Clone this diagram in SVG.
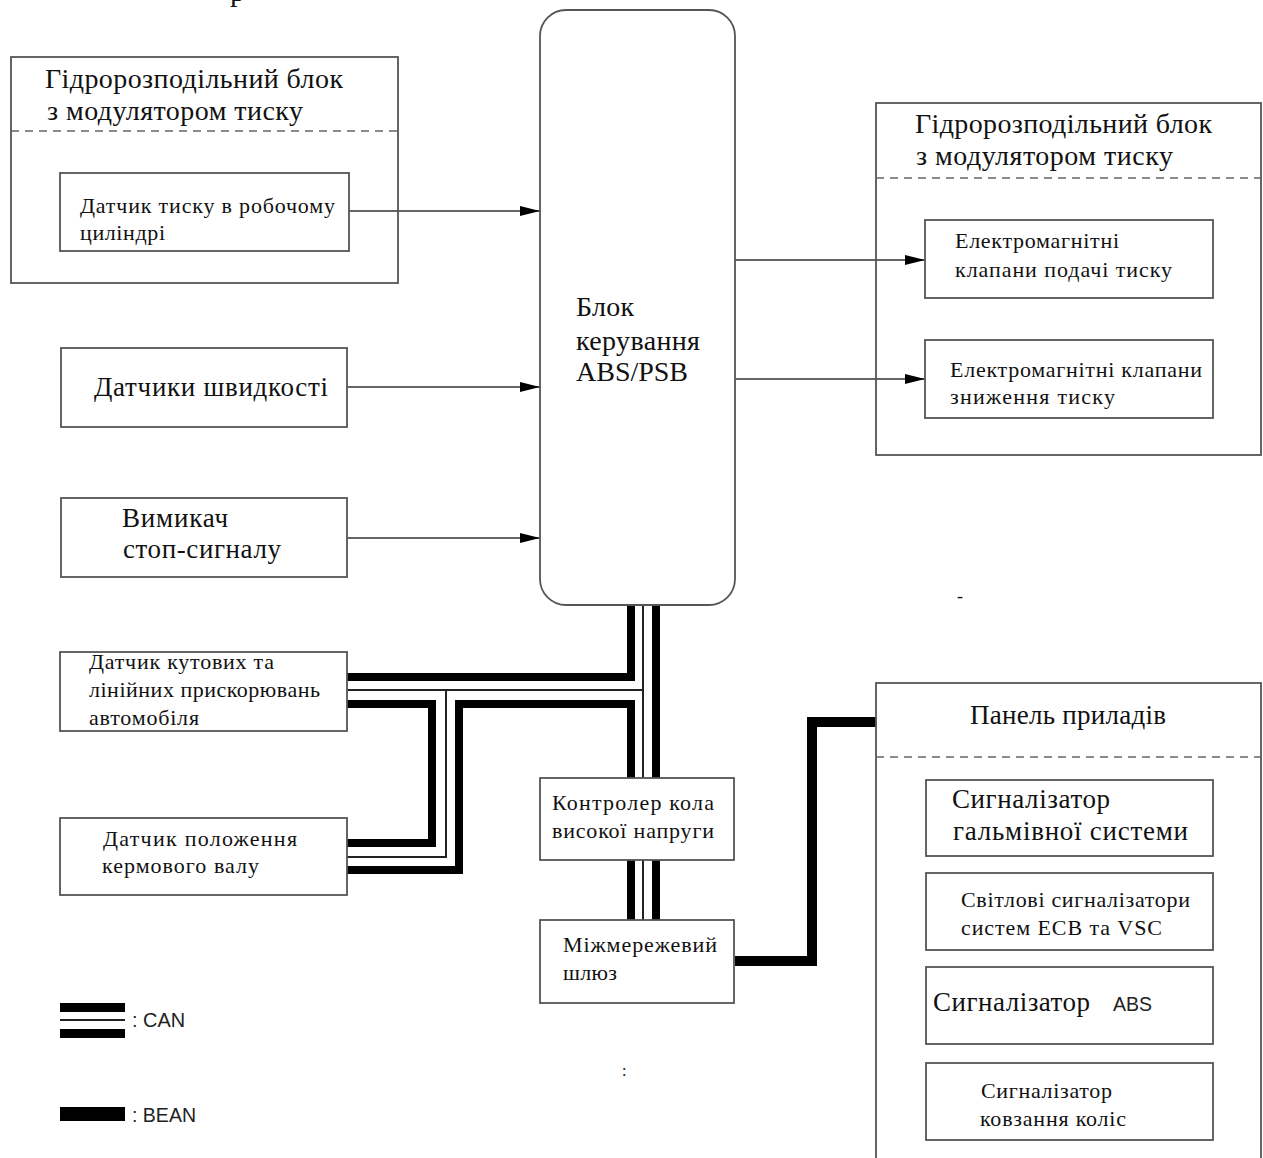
<svg xmlns="http://www.w3.org/2000/svg" width="1263" height="1158" viewBox="0 0 1263 1158">
<style>
  .box{fill:#fff;stroke:#555;stroke-width:1.8}
  .frame{fill:none;stroke:#555;stroke-width:1.8}
  .dash{stroke:#666;stroke-width:1.6;stroke-dasharray:8 6;fill:none}
  .t{font-family:"Liberation Serif","Times New Roman",serif;fill:#111}
  .big{font-size:28px}
  .mid{font-size:27px}
  .sm{font-size:22px}
  .sans{font-family:"Liberation Sans Narrow","Liberation Sans",Arial,sans-serif;fill:#222;font-size:21px}
  .arr{stroke:#333;stroke-width:1.3;fill:none;marker-end:url(#ah)}
  .thick{stroke:#000;stroke-width:8;fill:none;stroke-linejoin:miter;stroke-linecap:butt}
  .thin{stroke:#222;stroke-width:2;fill:none}
  .bean{stroke:#000;stroke-width:10;fill:none;stroke-linejoin:miter}
</style>
<defs>
  <marker id="ah" viewBox="0 0 20 10" refX="20" refY="5" markerWidth="20" markerHeight="10" markerUnits="userSpaceOnUse" orient="auto">
    <path d="M0,0 L20,5 L0,10 Z" fill="#000"/>
  </marker>
</defs>
<rect width="1263" height="1158" fill="#fff"/>

<text class="t" x="230" y="1" font-size="30">р</text>

<g id="connectors">
  <line class="arr" x1="349" y1="211" x2="540" y2="211"/>
  <line class="arr" x1="347" y1="387" x2="540" y2="387"/>
  <line class="arr" x1="347" y1="538" x2="540" y2="538"/>
  <line class="arr" x1="735" y1="260" x2="925" y2="260"/>
  <line class="arr" x1="735" y1="379" x2="925" y2="379"/>
  <path class="thick" d="M347,677 H631 V605"/>
  <path class="thick" d="M347,704 H432 V843 H347"/>
  <path class="thick" d="M347,870 H459 V704 H631 V778"/>
  <path class="thick" d="M656,605 V778"/>
  <path class="thin" d="M347,690 H643"/>
  <path class="thin" d="M643,605 V778"/>
  <path class="thin" d="M446,690 V857 H347"/>
  <path class="thick" d="M631,860 V920 M656,860 V920"/>
  <path class="thin" d="M643,860 V920"/>
  <path class="bean" d="M735,961 H812 V722 H876"/>
</g>

<g id="hydro-left">
  <rect class="frame" x="11" y="57" width="387" height="226"/>
  <line class="dash" x1="11" y1="131" x2="398" y2="131"/>
  <text class="t big" x="45" y="88" textLength="298" lengthAdjust="spacing">Гідророзподільний блок</text>
  <text class="t big" x="47" y="120" textLength="256" lengthAdjust="spacing">з модулятором тиску</text>
</g>
<g id="pressure-sensor">
  <rect class="box" x="60" y="173" width="289" height="78"/>
  <text class="t sm" x="80" y="213" textLength="255" lengthAdjust="spacing">Датчик тиску в робочому</text>
  <text class="t sm" x="80" y="240" textLength="85" lengthAdjust="spacing">циліндрі</text>
</g>

<g id="ecu">
  <rect class="box" x="540" y="10" width="195" height="595" rx="26" ry="26"/>
  <text class="t big" x="576" y="316" textLength="58" lengthAdjust="spacing">Блок</text>
  <text class="t big" x="576" y="350" textLength="124" lengthAdjust="spacing">керування</text>
  <text class="t big" x="576" y="381" textLength="112" lengthAdjust="spacing">ABS/PSB</text>
</g>

<g id="speed-sensors">
  <rect class="box" x="61" y="348" width="286" height="79"/>
  <text class="t mid" x="94" y="396" textLength="234" lengthAdjust="spacing">Датчики швидкості</text>
</g>

<g id="stop-switch">
  <rect class="box" x="61" y="498" width="286" height="79"/>
  <text class="t mid" x="122" y="527" textLength="106" lengthAdjust="spacing">Вимикач</text>
  <text class="t mid" x="123" y="558" textLength="158" lengthAdjust="spacing">стоп-сигналу</text>
</g>

<g id="accel-sensor">
  <rect class="box" x="60" y="652" width="287" height="79"/>
  <text class="t sm" x="89" y="669" textLength="185" lengthAdjust="spacing">Датчик кутових та</text>
  <text class="t sm" x="89" y="697" textLength="231" lengthAdjust="spacing">лінійних прискорювань</text>
  <text class="t sm" x="89" y="725" textLength="110" lengthAdjust="spacing">автомобіля</text>
</g>

<g id="steering-sensor">
  <rect class="box" x="60" y="818" width="287" height="77"/>
  <text class="t sm" x="103" y="846" textLength="194" lengthAdjust="spacing">Датчик положення</text>
  <text class="t sm" x="102" y="873" textLength="157" lengthAdjust="spacing">кермового валу</text>
</g>

<g id="hv-controller">
  <rect class="box" x="540" y="778" width="194" height="82"/>
  <text class="t sm" x="552" y="810" textLength="162" lengthAdjust="spacing">Контролер кола</text>
  <text class="t sm" x="552" y="838" textLength="162" lengthAdjust="spacing">високої напруги</text>
</g>

<g id="gateway">
  <rect class="box" x="540" y="920" width="194" height="83"/>
  <text class="t sm" x="563" y="952" textLength="154" lengthAdjust="spacing">Міжмережевий</text>
  <text class="t sm" x="563" y="980" textLength="54" lengthAdjust="spacing">шлюз</text>
</g>

<g id="hydro-right">
  <rect class="frame" x="876" y="103" width="385" height="352"/>
  <line class="dash" x1="876" y1="178" x2="1261" y2="178"/>
  <text class="t big" x="915" y="133" textLength="297" lengthAdjust="spacing">Гідророзподільний блок</text>
  <text class="t big" x="916" y="165" textLength="257" lengthAdjust="spacing">з модулятором тиску</text>
</g>
<g id="supply-valves">
  <rect class="box" x="925" y="220" width="288" height="78"/>
  <text class="t sm" x="955" y="248" textLength="164" lengthAdjust="spacing">Електромагнітні</text>
  <text class="t sm" x="955" y="277" textLength="217" lengthAdjust="spacing">клапани подачі тиску</text>
</g>
<g id="release-valves">
  <rect class="box" x="925" y="340" width="288" height="78"/>
  <text class="t sm" x="950" y="377" textLength="252" lengthAdjust="spacing">Електромагнітні клапани</text>
  <text class="t sm" x="950" y="404" textLength="165" lengthAdjust="spacing">зниження тиску</text>
</g>

<g id="instrument-panel">
  <rect class="frame" x="876" y="683" width="385" height="500"/>
  <line class="dash" x1="876" y1="757" x2="1261" y2="757"/>
  <text class="t mid" x="970" y="724" textLength="196" lengthAdjust="spacing">Панель приладів</text>
</g>
<g id="brake-warning">
  <rect class="box" x="926" y="780" width="287" height="76"/>
  <text class="t mid" x="952" y="808" textLength="158" lengthAdjust="spacing">Сигналізатор</text>
  <text class="t mid" x="953" y="840" textLength="235" lengthAdjust="spacing">гальмівної системи</text>
</g>
<g id="ecb-vsc-lights">
  <rect class="box" x="926" y="873" width="287" height="77"/>
  <text class="t sm" x="961" y="907" textLength="229" lengthAdjust="spacing">Світлові сигналізатори</text>
  <text class="t sm" x="961" y="935" textLength="201" lengthAdjust="spacing">систем ECB та VSC</text>
</g>
<g id="abs-warning">
  <rect class="box" x="926" y="967" width="287" height="77"/>
  <text class="t mid" x="933" y="1011" textLength="157" lengthAdjust="spacing">Сигналізатор</text>
  <text class="sans" x="1113" y="1011" textLength="39" lengthAdjust="spacingAndGlyphs">ABS</text>
</g>
<g id="slip-warning">
  <rect class="box" x="926" y="1063" width="287" height="77"/>
  <text class="t sm" x="981" y="1098" textLength="131" lengthAdjust="spacing">Сигналізатор</text>
  <text class="t sm" x="980" y="1126" textLength="146" lengthAdjust="spacing">ковзання коліс</text>
</g>

<g id="legend">
  <rect x="60" y="1003" width="65" height="9" fill="#000"/>
  <rect x="60" y="1019" width="65" height="2" fill="#222"/>
  <rect x="60" y="1029" width="65" height="9" fill="#000"/>
  <text class="sans" x="132" y="1027" textLength="53" lengthAdjust="spacingAndGlyphs">: CAN</text>
  <rect x="60" y="1107" width="65" height="14" fill="#000"/>
  <text class="sans" x="132" y="1122" textLength="64" lengthAdjust="spacingAndGlyphs">: BEAN</text>
</g>

<text class="t" x="957" y="602" font-size="18">-</text>
<text class="t" x="622" y="1076" font-size="16">:</text>
</svg>
